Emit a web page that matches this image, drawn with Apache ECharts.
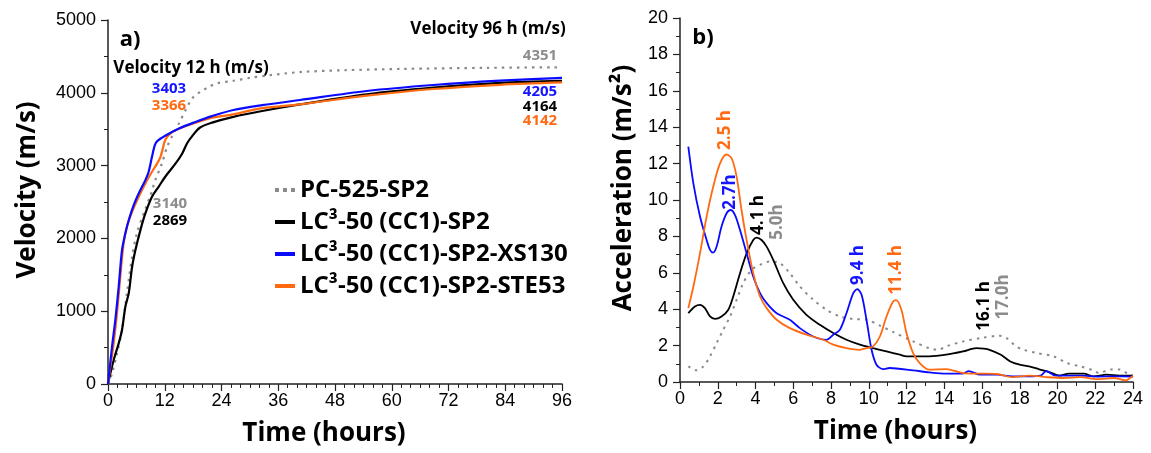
<!DOCTYPE html>
<html>
<head>
<meta charset="utf-8">
<script src="https://cdn.jsdelivr.net/npm/echarts@6/dist/echarts.min.js"></script>
<style>
body{margin:0;background:#fff;}
#main{width:1151px;height:453px;}
</style>
</head>
<body>
<div id="main"></div>
<script type="text/javascript">
// series names
var names = ['PC-525-SP2', 'LC³-50 (CC1)-SP2', 'LC³-50 (CC1)-SP2-XS130', 'LC³-50 (CC1)-SP2-STE53'];
var colors = ['#8a8a8a', '#000000', '#0a0aff', '#ff6a10'];

// a) velocity (m/s) vs time (h)
var pcVelT = [0, 0.85, 1.9, 2.96, 4.0, 5.1, 6.1, 7.55, 9.0, 10.0, 11.4, 12.5, 13.5, 15.0, 16.4, 17.8, 19.4, 21.3, 23, 26.5, 30, 34, 40.6, 50, 62, 80, 96];
var pcVel = [0, 146, 421, 741, 1245, 1748, 2069, 2343, 2595, 2800, 3030, 3259, 3396, 3579, 3762, 3922, 4010, 4080, 4130, 4165, 4205, 4240, 4285, 4310, 4328, 4343, 4351];
var lcVelT = [0, 0.5, 1.2, 2.26, 2.96, 3.67, 4.38, 5.1, 5.8, 6.85, 7.9, 9.3, 10.7, 12.1, 14.3, 15.7, 16.7, 17.8, 19.4, 22, 26.5, 32.6, 40.6, 54.7, 68.8, 82.9, 96];
var lcVel = [0, 146, 330, 558, 741, 1062, 1245, 1611, 1840, 2114, 2343, 2572, 2709, 2847, 3030, 3167, 3304, 3405, 3520, 3590, 3670, 3750, 3840, 3979, 4070, 4135, 4164];
var xsVelT = [0, 0.85, 1.55, 2.26, 2.96, 3.67, 4.38, 5.43, 6.49, 7.9, 8.6, 9.3, 9.9, 10.4, 12.1, 15.0, 18.5, 22.0, 26.5, 32.6, 40.6, 54.7, 68.8, 82.9, 96];
var xsVel = [0, 510, 880, 1336, 1840, 2070, 2250, 2458, 2618, 2800, 2915, 3120, 3280, 3336, 3410, 3510, 3600, 3680, 3764, 3830, 3901, 4025, 4107, 4166, 4205];
var steVelT = [0, 0.5, 1.2, 1.9, 2.6, 3.3, 4.0, 5.1, 6.5, 7.9, 9.3, 10.4, 11.1, 11.6, 12.1, 13.2, 15, 18.5, 22, 26.5, 32.6, 40.6, 54.7, 68.8, 82.9, 96];
var steVel = [0, 238, 558, 970, 1474, 1931, 2160, 2366, 2572, 2755, 2915, 3030, 3121, 3236, 3350, 3442, 3505, 3588, 3657, 3704, 3790, 3842, 3961, 4052, 4110, 4142];

// b) acceleration (m/s2) vs time (h)
var pcAccT = [0.44, 0.88, 1.24, 1.59, 1.94, 2.29, 2.65, 3.0, 3.35, 3.79, 4.24, 4.76, 5.29, 5.82, 6.35, 7.06, 7.76, 8.47, 9.18, 9.88, 10.59, 11.29, 12.35, 13.2, 13.68, 14.1, 15.0, 15.9, 16.94, 17.3, 17.8, 18.2, 18.9, 19.8, 20.5, 21.2, 21.9, 22.2, 22.8, 23.3, 23.8, 24];
var pcAcc = [0.86, 0.64, 0.86, 1.41, 2.14, 2.87, 3.6, 4.52, 5.43, 6.16, 6.44, 6.62, 6.53, 5.98, 5.25, 4.52, 3.97, 3.6, 3.46, 3.42, 3.1, 2.75, 2.23, 1.86, 1.77, 1.96, 2.23, 2.41, 2.54, 2.41, 1.96, 1.77, 1.59, 1.41, 1.04, 0.86, 0.64, 0.49, 0.68, 0.68, 0.4, 0.35];
var lcAccT = [0.44, 0.79, 1.06, 1.32, 1.59, 1.85, 2.2, 2.56, 2.82, 3.18, 3.53, 3.88, 4.06, 4.32, 4.59, 4.94, 5.47, 6.0, 6.7, 7.41, 8.12, 8.82, 9.53, 10.23, 10.94, 11.65, 12.0, 13.2, 14.1, 15.0, 15.7, 16.1, 16.4, 17.0, 17.5, 18.0, 18.5, 19.0, 19.6, 20.1, 20.6, 21.4, 21.9, 22.6, 23.3, 24];
var lcAcc = [3.78, 4.15, 4.24, 4.06, 3.6, 3.47, 3.6, 3.97, 4.7, 5.98, 7.07, 7.8, 7.93, 7.8, 7.44, 6.71, 5.43, 4.52, 3.69, 3.14, 2.69, 2.32, 2.05, 1.86, 1.68, 1.5, 1.41, 1.41, 1.5, 1.68, 1.86, 1.83, 1.77, 1.5, 1.13, 0.95, 0.86, 0.71, 0.53, 0.35, 0.46, 0.46, 0.31, 0.4, 0.35, 0.35];
var xsAccT = [0.44, 0.71, 1.06, 1.41, 1.59, 1.76, 1.94, 2.2, 2.47, 2.68, 2.91, 3.18, 3.53, 3.88, 4.24, 4.59, 5.12, 5.82, 6.35, 7.06, 7.76, 8.12, 8.47, 8.82, 9.18, 9.39, 9.62, 9.88, 10.15, 10.41, 10.76, 11.1, 12.35, 13.2, 14.1, 15.0, 15.3, 15.9, 16.8, 17.6, 18.5, 19.1, 19.4, 19.9, 21.2, 22.2, 23, 24];
var xsAcc = [12.93, 10.9, 9.09, 7.8, 7.26, 7.11, 7.44, 8.54, 9.27, 9.45, 9.18, 8.35, 7.07, 5.8, 4.88, 4.33, 3.78, 3.42, 2.96, 2.5, 2.32, 2.6, 2.87, 3.78, 4.88, 5.1, 4.79, 3.42, 1.77, 0.95, 0.71, 0.77, 0.64, 0.53, 0.46, 0.46, 0.6, 0.4, 0.4, 0.31, 0.31, 0.35, 0.6, 0.35, 0.35, 0.3, 0.31, 0.3];
var steAccT = [0.44, 0.71, 1.06, 1.41, 1.76, 2.12, 2.47, 2.74, 3.0, 3.26, 3.53, 3.88, 4.24, 4.59, 5.12, 5.82, 6.7, 7.59, 8.12, 8.82, 9.53, 9.88, 10.23, 10.59, 10.94, 11.29, 11.45, 11.73, 12.0, 12.35, 12.7, 13.2, 14.1, 15.0, 15.9, 16.8, 17.6, 18.5, 19.4, 20.3, 21.2, 22.1, 23.0, 23.6, 24];
var steAcc = [4.06, 5.25, 7.07, 9.09, 10.73, 12.01, 12.5, 12.28, 11.28, 9.45, 7.8, 5.98, 4.7, 4.06, 3.42, 2.96, 2.6, 2.32, 2.05, 1.86, 1.77, 1.86, 1.96, 2.5, 3.6, 4.42, 4.5, 3.97, 2.69, 1.59, 1.04, 0.68, 0.71, 0.49, 0.46, 0.44, 0.27, 0.35, 0.27, 0.22, 0.27, 0.16, 0.22, 0.09, 0.35];

function pairs(t, v){
	var out = [];
	for(var i=0; i<t.length; i++){
		out.push([t[i], v[i]]);
	}
	return out;
}

var tickFont = {fontFamily:'Liberation Sans', fontSize:18, color:'#000'};
var nameFont = {fontFamily:'Open Sans', fontWeight:'bold', fontSize:26, color:'#000'};
var axisLine = {show:true, lineStyle:{color:'#222', width:1.5}};

function xAxisOf(grid, max, step, minorSplit){
	return {
		type:'value', gridIndex:grid, min:0, max:max, interval:step,
		name:'Time (hours)', nameLocation:'middle', nameGap:37,
		nameTextStyle: Object.assign({padding:[0,22,0,0]}, nameFont),
		axisLine:axisLine,
		axisTick:{show:true, inside:false, length:7, lineStyle:{color:'#222', width:1.2}},
		minorTick:{show:true, splitNumber:minorSplit, length:4, lineStyle:{color:'#222', width:1}},
		splitLine:{show:false},
		axisLabel: Object.assign({margin:8}, tickFont)
	};
}
function yAxisOf(grid, max, step, name, gap){
	return {
		type:'value', gridIndex:grid, min:0, max:max, interval:step,
		name:name, nameLocation:'middle', nameGap:gap, nameRotate:90,
		nameTextStyle: Object.assign({padding:[0,0,0,24]}, nameFont),
		axisLine:axisLine,
		axisTick:{show:true, inside:false, length:7, lineStyle:{color:'#222', width:1.2}},
		minorTick:{show:true, splitNumber:2, length:4, lineStyle:{color:'#222', width:1}},
		splitLine:{show:false},
		axisLabel: Object.assign({margin:12, formatter:function(v){ return String(v); }}, tickFont)
	};
}

function lineOf(idx, axis, data, width){
	var ls = {color:colors[idx], width:width};
	if(idx == 0){
		ls.type = [2.5, 5];
	}
	return {
		name:names[idx], type:'line', xAxisIndex:axis, yAxisIndex:axis,
		data:data, symbol:'none', smooth:0.3,
		lineStyle:ls, itemStyle:{color:colors[idx]}, z: idx==0 ? 1 : 2
	};
}

function txt(x, y, s, color, size, rot){
	return {
		type:'text', x:x, y:y, rotation: rot ? Math.PI/2 : 0,
		style:{text:s, fill:color, font:'bold ' + size + 'px "Open Sans"', textAlign:'center', textVerticalAlign:'middle'}
	};
}

var myChart = echarts.init(document.getElementById('main'));
var option = {
	animation:false,
	backgroundColor:'#fff',
	grid:[
		{left:108, top:20, width:454, height:364},
		{left:680, top:18, width:453, height:364}
	],
	xAxis:[xAxisOf(0, 96, 12, 6), xAxisOf(1, 24, 2, 2)],
	yAxis:[yAxisOf(0, 5000, 1000, 'Velocity (m/s)', 67), yAxisOf(1, 20, 2, 'Acceleration (m/s²)', 43)],
	legend:{
		orient:'vertical', left:273, top:178, padding:0, itemWidth:20, itemHeight:14, itemGap:8,
		textStyle:{fontFamily:'Open Sans', fontWeight:'bold', fontSize:24, color:'#000', lineHeight:24},
		lineStyle:{width:4},
		itemStyle:{opacity:0},
		data:[
			{name:names[0], lineStyle:{width:4, type:'dotted'}},
			{name:names[1]}, {name:names[2]}, {name:names[3]}
		]
	},
	series:[
		lineOf(0, 0, pairs(pcVelT, pcVel), 2.2),
		lineOf(1, 0, pairs(lcVelT, lcVel), 2.2),
		lineOf(3, 0, pairs(steVelT, steVel), 2.2),
		lineOf(2, 0, pairs(xsVelT, xsVel), 2.2),
		lineOf(0, 1, pairs(pcAccT, pcAcc), 2),
		lineOf(1, 1, pairs(lcAccT, lcAcc), 1.8),
		lineOf(2, 1, pairs(xsAccT, xsAcc), 1.8),
		lineOf(3, 1, pairs(steAccT, steAcc), 1.8)
	],
	graphic:[
		txt(130, 40, 'a)', '#000', 22),
		txt(703, 38, 'b)', '#000', 22),
		txt(191, 68, 'Velocity 12 h (m/s)', '#000', 17),
		txt(488, 29, 'Velocity 96 h (m/s)', '#000', 17),
		txt(540, 56, '4351', '#8c8c8c', 15),
		txt(540, 92, '4205', '#1515ff', 15),
		txt(540, 107, '4164', '#000', 15),
		txt(540, 121, '4142', '#ff6a13', 15),
		txt(169, 89, '3403', '#1515ff', 15),
		txt(169, 106, '3366', '#ff6a13', 15),
		txt(170, 204, '3140', '#8c8c8c', 15),
		txt(170, 221, '2869', '#000', 15),
		txt(725, 130, '2.5 h', '#ff6a13', 17, true),
		txt(730, 192, '2.7h', '#1515ff', 17, true),
		txt(758, 215, '4.1 h', '#000', 17, true),
		txt(777, 222, '5.0h', '#8c8c8c', 17, true),
		txt(858, 265, '9.4 h', '#1515ff', 17, true),
		txt(896, 270, '11.4 h', '#ff6a13', 17, true),
		txt(984, 306, '16.1 h', '#000', 17, true),
		txt(1003, 297, '17.0h', '#8c8c8c', 17, true)
	]
};
myChart.setOption(option);
</script>
</body>
</html>
